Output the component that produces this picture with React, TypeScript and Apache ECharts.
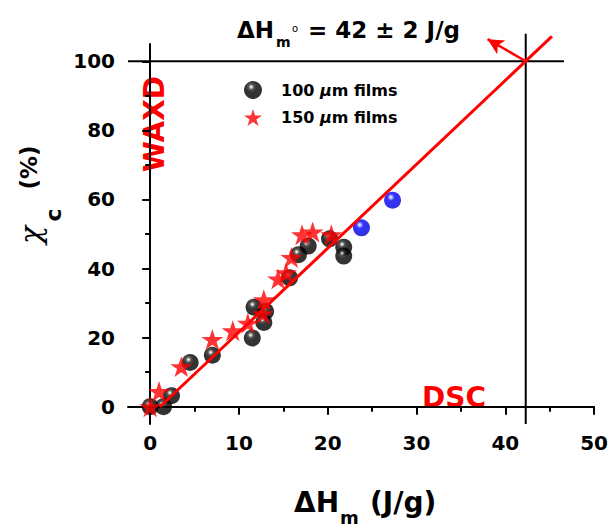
import React, { useEffect, useRef } from "react";
import * as echarts from "echarts";

// ---- data ----
const films100: number[][] = [
  [0, 0], [1.5, 0], [2.4, 3.2], [4.5, 12.8], [7.0, 14.9], [11.5, 19.9],
  [11.7, 28.8], [13.0, 27.6], [12.8, 24.4], [15.7, 37.3], [16.7, 44.0],
  [17.8, 46.5], [20.2, 48.6], [21.8, 46.2], [21.8, 43.6],
];
const films150: number[][] = [
  [0, 0], [1.0, 4.4], [3.5, 11.6], [7.0, 19.5], [9.3, 22.0], [11.0, 24.2],
  [12.7, 26.9], [12.8, 31.0], [14.4, 37.0], [15.3, 38.8], [15.9, 43.2],
  [17.1, 49.8], [18.3, 50.6], [20.4, 49.8],
];
const extraPoints: number[][] = [[23.8, 51.8], [27.3, 59.8]];
const fitLine: number[][] = [[1.1, 0], [45.25, 107.2]];
const refHorizontal: number[][] = [[-2.5, 100], [46.6, 100]];
const refVertical: number[][] = [[42.3, -5], [42.3, 108]];
const arrowFrom = [42.3, 100];
const arrowTo = [38.0, 106.4];

const xMajorTicks = [0, 10, 20, 30, 40, 50];
const xAllTicks = [0, 5, 10, 15, 20, 25, 30, 35, 40, 45, 50];
const yMajorTicks = [0, 20, 40, 60, 80, 100];
const yAllTicks = [0, 10, 20, 30, 40, 50, 60, 70, 80, 90, 100];

const seriesNames = ["100 μm films", "150 μm films"];

const FONT = "DejaVu Sans";
const RED = "#ff0000";
const STAR =
  "path://M50,0 L61.2,34.6 L97.6,34.5 L68.1,55.9 L79.4,90.5 L50,69 L20.6,90.5 L31.9,55.9 L2.4,34.5 L38.8,34.6 Z";

function txt(
  text: string,
  x: number,
  y: number,
  size: number,
  opts: { align?: string; weight?: string; fill?: string; rotation?: number; family?: string; style?: string } = {}
) {
  return {
    type: "text",
    x,
    y,
    rotation: opts.rotation || 0,
    silent: true,
    style: {
      text,
      align: opts.align || "left",
      verticalAlign: "middle",
      fontFamily: opts.family || FONT,
      fontWeight: opts.weight || "bold",
      fontStyle: opts.style || "normal",
      fontSize: size,
      fill: opts.fill || "#000",
    },
  };
}

export default function App() {
  const ref = useRef<HTMLDivElement>(null);
  useEffect(() => {
    if (!ref.current) return;
    const chart = echarts.init(ref.current, null, { renderer: "svg" });
    const sphere = new echarts.graphic.RadialGradient(0.4, 0.33, 0.7, [
      { offset: 0, color: "#ffffff" },
      { offset: 0.08, color: "#c8c8c8" },
      { offset: 0.22, color: "#2a2a2a" },
      { offset: 0.45, color: "#000000" },
      { offset: 1, color: "#000000" },
    ]);
    const blueSphere = new echarts.graphic.RadialGradient(0.4, 0.33, 0.7, [
      { offset: 0, color: "#ffffff" },
      { offset: 0.1, color: "#b0b0ff" },
      { offset: 0.3, color: "#0000ff" },
      { offset: 1, color: "#0000d0" },
    ]);
    const labelStyle = {
      fontFamily: FONT,
      fontWeight: "bold" as const,
      fontSize: 20,
      color: "#000",
    };
    const baseX = {
      type: "value" as const,
      min: -2.5,
      max: 50,
      position: "bottom" as const,
      splitLine: { show: false },
    };
    const baseY = {
      type: "value" as const,
      min: -5,
      max: 105,
      position: "left" as const,
      splitLine: { show: false },
    };
    chart.setOption({
      animation: false,
      grid: { left: 128, top: 44, right: 16, bottom: 104, containLabel: false },
      xAxis: [
        {
          ...baseX,
          axisLine: { show: true, lineStyle: { color: "#000", width: 2 } },
          axisTick: {
            show: true,
            inside: false,
            length: 5,
            customValues: xAllTicks,
            lineStyle: { color: "#000", width: 2 },
          },
          axisLabel: { ...labelStyle, margin: 9, customValues: xMajorTicks },
        },
        {
          ...baseX,
          axisLine: { show: false },
          axisTick: {
            show: true,
            inside: false,
            length: 8,
            customValues: xMajorTicks,
            lineStyle: { color: "#000", width: 2 },
          },
          axisLabel: { show: false },
        },
      ],
      yAxis: [
        {
          ...baseY,
          axisLine: { show: true, lineStyle: { color: "#000", width: 2 } },
          axisTick: {
            show: true,
            inside: false,
            length: 5,
            customValues: yAllTicks,
            lineStyle: { color: "#000", width: 2 },
          },
          axisLabel: { ...labelStyle, margin: 13, customValues: yMajorTicks },
        },
        {
          ...baseY,
          axisLine: { show: false },
          axisTick: {
            show: true,
            inside: false,
            length: 8,
            customValues: yMajorTicks,
            lineStyle: { color: "#000", width: 2 },
          },
          axisLabel: { show: false },
        },
      ],
      legend: {
        data: seriesNames,
        orient: "vertical",
        left: 239,
        top: 76,
        itemWidth: 18,
        itemHeight: 18,
        itemGap: 10,
        formatter: (name: string) => name.replace("μ", "{i|μ}"),
        textStyle: {
          fontFamily: FONT,
          fontWeight: "bold",
          fontSize: 16,
          color: "#000",
          padding: [0, 0, 0, 14],
          rich: {
            i: { fontFamily: FONT, fontWeight: "bold", fontStyle: "italic", fontSize: 16, color: "#000" },
          },
        },
      },
      series: [
        {
          type: "line",
          data: refHorizontal,
          symbol: "none",
          clip: false,
          lineStyle: { color: "#000", width: 2 },
          silent: true,
        },
        {
          type: "line",
          data: refVertical,
          symbol: "none",
          clip: false,
          lineStyle: { color: "#000", width: 2 },
          silent: true,
        },
        {
          type: "line",
          data: fitLine,
          symbol: "none",
          clip: false,
          lineStyle: { color: RED, width: 3 },
          silent: true,
        },
        {
          type: "line",
          clip: false,
          lineStyle: { color: RED, width: 2.5 },
          itemStyle: { color: RED },
          showSymbol: true,
          showAllSymbol: true,
          data: [
            { value: arrowFrom, symbol: "none" },
            { value: arrowTo, symbol: "arrow", symbolSize: [12, 16], symbolRotate: 59 },
          ],
          silent: true,
        },
        {
          name: seriesNames[0],
          type: "scatter",
          data: films100,
          symbol: "circle",
          symbolSize: 17,
          itemStyle: { color: sphere },
        },
        {
          name: "extra",
          type: "scatter",
          data: extraPoints,
          symbol: "circle",
          symbolSize: 17,
          itemStyle: { color: blueSphere },
        },
        {
          name: seriesNames[1],
          type: "scatter",
          data: films150,
          symbol: STAR,
          symbolKeepAspect: true,
          symbolSize: 22,
          itemStyle: { color: RED },
        },
      ],
      graphic: [
        // title: ΔHm° = 42 ± 2 J/g
        txt("ΔH", 237, 30, 23),
        txt("m", 276, 42, 14),
        txt("o", 292, 28, 10, { weight: "normal" }),
        txt("= 42 ± 2 J/g", 308, 30, 23),
        // x axis name: ΔHm (J/g)
        txt("ΔH", 294, 502, 28),
        txt("m", 340, 517, 18),
        txt("(J/g)", 370, 502, 28),
        // y axis name: χc (%)
        txt("χ", 30, 235, 30, { align: "center", rotation: Math.PI / 2, weight: "normal", family: "DejaVu Serif", style: "italic" }),
        txt("c", 53, 215, 22, { align: "center", rotation: Math.PI / 2 }),
        txt("(%)", 29, 167.5, 23, { align: "center", rotation: Math.PI / 2 }),
        // annotations
        txt("WAXD", 154, 124, 28, { align: "center", fill: RED, rotation: Math.PI / 2 }),
        txt("DSC", 454, 397, 28, { align: "center", fill: RED }),
      ],
    });
    return () => chart.dispose();
  }, []);
  return (
    <div
      ref={ref}
      style={{ position: "absolute", left: 0, top: 0, width: 611, height: 528, background: "#fff" }}
    />
  );
}
